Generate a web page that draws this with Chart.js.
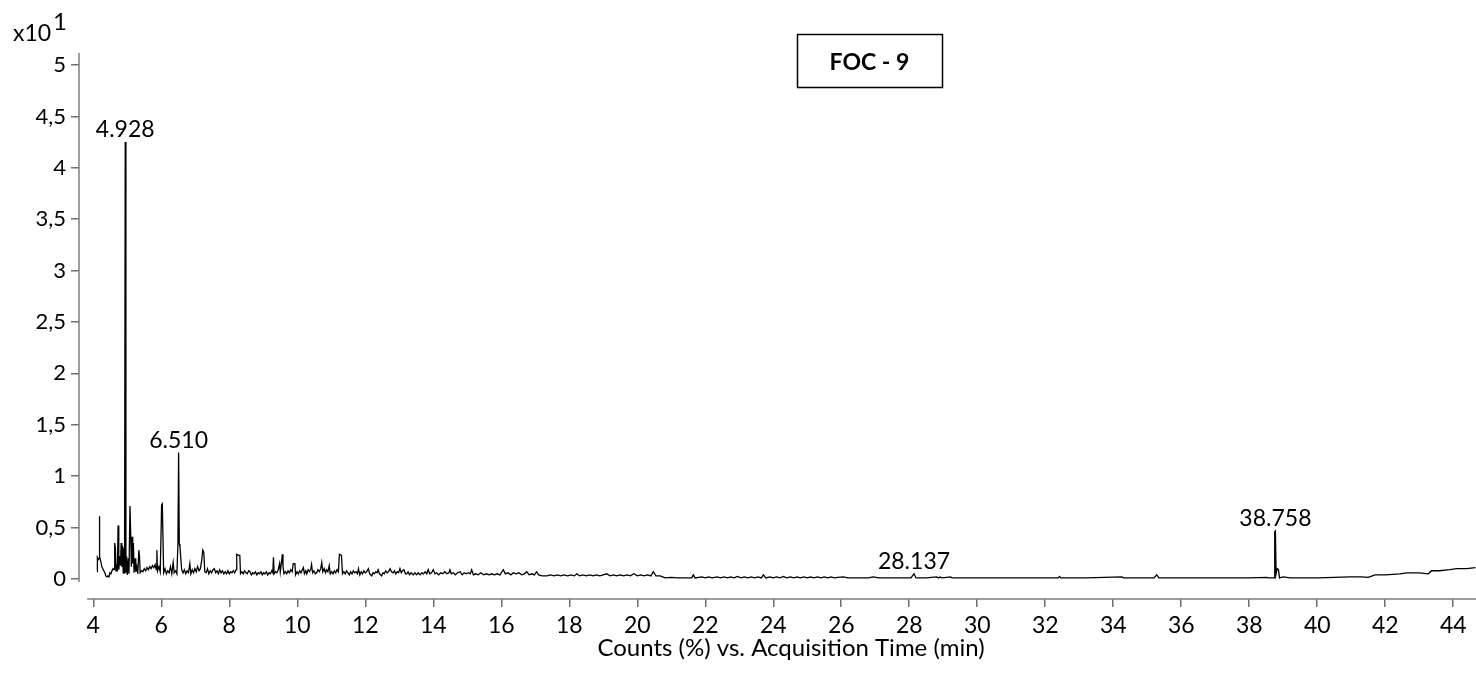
<!DOCTYPE html>
<html>
<head>
<meta charset="utf-8">
<script src="https://cdn.jsdelivr.net/npm/chart.js@4"></script>
<style>
  html, body { margin: 0; padding: 0; background: #fff; }
  canvas { display: block; }
</style>
</head>
<body>
<canvas id="tic" width="1476" height="688"></canvas>
<script>
// Chromatogram FOC - 9 (values in x10^1 counts %)
const retentionTimes = [
  4.12, 4.121, 4.15, 4.17, 4.18, 4.19, 4.22, 4.25, 4.28, 4.31,
  4.34, 4.37, 4.40, 4.43, 4.46, 4.49, 4.52, 4.55, 4.58, 4.61,
  4.63, 4.65, 4.67, 4.69, 4.71, 4.73, 4.75, 4.78, 4.80, 4.82,
  4.84, 4.86, 4.88, 4.90, 4.92, 4.94, 4.96, 4.98, 5.00, 5.03,
  5.05, 5.08, 5.10, 5.12, 5.14, 5.16, 5.18, 5.20, 5.23, 5.25,
  5.28, 5.31, 5.34, 5.36, 5.38, 5.42, 5.46, 5.50, 5.54, 5.58,
  5.62, 5.66, 5.70, 5.74, 5.78, 5.82, 5.85, 5.87, 5.89, 5.93,
  5.97, 6.01, 6.03, 6.05, 6.07, 6.11, 6.15, 6.19, 6.23, 6.27,
  6.31, 6.35, 6.38, 6.42, 6.46, 6.49, 6.51, 6.53, 6.55, 6.57,
  6.60, 6.64, 6.68, 6.72, 6.76, 6.80, 6.84, 6.87, 6.91, 6.95,
  6.99, 7.03, 7.07, 7.11, 7.15, 7.19, 7.22, 7.25, 7.28, 7.32,
  7.36, 7.40, 7.44, 7.48, 7.52, 7.56, 7.60, 7.64, 7.68, 7.72,
  7.76, 7.80, 7.84, 7.88, 7.92, 7.96, 8.00, 8.04, 8.08, 8.12,
  8.16, 8.20, 8.22, 8.28, 8.31, 8.33, 8.37, 8.41, 8.45, 8.49,
  8.53, 8.57, 8.61, 8.65, 8.69, 8.73, 8.77, 8.81, 8.85, 8.89,
  8.93, 8.97, 9.01, 9.05, 9.09, 9.13, 9.17, 9.21, 9.25, 9.28,
  9.30, 9.32, 9.36, 9.40, 9.44, 9.48, 9.50, 9.54, 9.56, 9.58,
  9.61, 9.65, 9.69, 9.73, 9.77, 9.81, 9.85, 9.88, 9.93, 9.95,
  9.99, 10.03, 10.07, 10.11, 10.15, 10.18, 10.21, 10.25, 10.28, 10.32,
  10.36, 10.40, 10.42, 10.45, 10.49, 10.53, 10.57, 10.61, 10.65, 10.69,
  10.72, 10.75, 10.79, 10.83, 10.86, 10.90, 10.94, 10.97, 11.01, 11.05,
  11.09, 11.13, 11.17, 11.21, 11.24, 11.30, 11.33, 11.37, 11.41, 11.45,
  11.49, 11.53, 11.57, 11.61, 11.65, 11.69, 11.73, 11.77, 11.80, 11.84,
  11.88, 11.92, 11.96, 12.00, 12.04, 12.09, 12.13, 12.19, 12.23, 12.27,
  12.31, 12.35, 12.38, 12.42, 12.48, 12.52, 12.56, 12.60, 12.64, 12.68,
  12.73, 12.77, 12.82, 12.86, 12.90, 12.94, 12.98, 13.02, 13.06, 13.10,
  13.14, 13.18, 13.22, 13.26, 13.30, 13.35, 13.41, 13.46, 13.51, 13.56,
  13.61, 13.66, 13.71, 13.76, 13.81, 13.85, 13.90, 13.95, 14.00, 14.05,
  14.10, 14.16, 14.22, 14.28, 14.34, 14.40, 14.46, 14.49, 14.53, 14.59,
  14.65, 14.71, 14.79, 14.85, 14.91, 14.97, 15.03, 15.09, 15.13, 15.18,
  15.25, 15.32, 15.40, 15.48, 15.56, 15.64, 15.72, 15.80, 15.88, 15.96,
  16.06, 16.12, 16.20, 16.28, 16.36, 16.44, 16.52, 16.60, 16.68, 16.75,
  16.82, 16.90, 16.97, 17.04, 17.10, 17.20, 17.34, 17.45, 17.55, 17.65,
  17.75, 17.85, 17.95, 18.05, 18.15, 18.22, 18.30, 18.40, 18.50, 18.60,
  18.70, 18.80, 18.90, 19.00, 19.10, 19.20, 19.30, 19.40, 19.50, 19.60,
  19.70, 19.80, 19.90, 20.00, 20.10, 20.20, 20.30, 20.40, 20.47, 20.55,
  20.67, 20.75, 20.82, 21.00, 21.20, 21.40, 21.60, 21.65, 21.70, 21.90,
  22.00, 22.10, 22.20, 22.35, 22.45, 22.55, 22.65, 22.75, 22.85, 22.95,
  23.05, 23.15, 23.25, 23.35, 23.45, 23.55, 23.65, 23.71, 23.78, 23.90,
  24.00, 24.10, 24.20, 24.30, 24.40, 24.50, 24.60, 24.70, 24.80, 24.90,
  25.00, 25.10, 25.20, 25.30, 25.40, 25.50, 25.60, 25.70, 25.80, 25.90,
  26.06, 26.20, 26.50, 26.80, 26.94, 27.10, 27.50, 27.90, 28.05, 28.14,
  28.20, 28.50, 28.81, 28.86, 28.91, 28.96, 29.22, 29.26, 30.00, 31.00,
  32.00, 32.38, 32.42, 32.46, 33.20, 34.26, 34.30, 35.20, 35.28, 35.34,
  36.00, 37.00, 38.00, 38.51, 38.55, 38.74, 38.75, 38.77, 38.79, 38.82,
  38.86, 38.89, 39.00, 39.20, 39.49, 39.80, 40.00, 40.50, 40.96, 41.30,
  41.50, 41.70, 42.00, 42.43, 42.63, 43.00, 43.27, 43.36, 43.60, 43.90,
  44.10, 44.40, 44.65
];

const abundances = [
  0.07, 0.21, 0.19, 0.20, 0.61, 0.22, 0.17, 0.12, 0.10, 0.08,
  0.06, 0.03, 0.02, 0.03, 0.02, 0.06, 0.05, 0.08, 0.10, 0.09,
  0.35, 0.30, 0.08, 0.12, 0.10, 0.52, 0.09, 0.22, 0.13, 0.35,
  0.12, 0.32, 0.06, 0.30, 0.05, 4.25, 0.06, 0.22, 0.04, 0.20,
  0.05, 0.71, 0.45, 0.12, 0.41, 0.15, 0.35, 0.06, 0.20, 0.07,
  0.12, 0.05, 0.28, 0.22, 0.06, 0.08, 0.07, 0.10, 0.08, 0.11,
  0.09, 0.12, 0.10, 0.13, 0.11, 0.14, 0.09, 0.28, 0.08, 0.12,
  0.07, 0.72, 0.73, 0.73, 0.06, 0.10, 0.05, 0.08, 0.06, 0.12,
  0.05, 0.16, 0.06, 0.08, 0.05, 0.35, 1.23, 0.34, 0.31, 0.22,
  0.09, 0.06, 0.09, 0.05, 0.08, 0.06, 0.15, 0.05, 0.09, 0.06,
  0.10, 0.07, 0.12, 0.08, 0.10, 0.18, 0.28, 0.26, 0.07, 0.06,
  0.10, 0.05, 0.08, 0.06, 0.09, 0.10, 0.06, 0.08, 0.05, 0.09,
  0.06, 0.08, 0.05, 0.07, 0.05, 0.08, 0.05, 0.07, 0.06, 0.08,
  0.06, 0.09, 0.24, 0.23, 0.23, 0.05, 0.07, 0.05, 0.08, 0.06,
  0.05, 0.08, 0.07, 0.04, 0.06, 0.05, 0.07, 0.04, 0.06, 0.05,
  0.07, 0.04, 0.06, 0.05, 0.07, 0.04, 0.06, 0.05, 0.08, 0.06,
  0.21, 0.05, 0.07, 0.06, 0.09, 0.15, 0.07, 0.18, 0.24, 0.12,
  0.05, 0.07, 0.05, 0.08, 0.06, 0.09, 0.07, 0.15, 0.15, 0.04,
  0.07, 0.05, 0.08, 0.06, 0.09, 0.11, 0.05, 0.08, 0.05, 0.09,
  0.07, 0.10, 0.14, 0.06, 0.08, 0.05, 0.06, 0.09, 0.07, 0.10,
  0.16, 0.07, 0.10, 0.06, 0.09, 0.07, 0.13, 0.05, 0.07, 0.05,
  0.08, 0.06, 0.09, 0.07, 0.24, 0.23, 0.05, 0.07, 0.05, 0.08,
  0.06, 0.04, 0.07, 0.05, 0.08, 0.06, 0.07, 0.05, 0.10, 0.04,
  0.07, 0.05, 0.08, 0.06, 0.07, 0.10, 0.05, 0.03, 0.06, 0.05,
  0.07, 0.06, 0.09, 0.05, 0.03, 0.06, 0.05, 0.08, 0.06, 0.07,
  0.10, 0.07, 0.06, 0.08, 0.05, 0.07, 0.06, 0.10, 0.06, 0.08,
  0.09, 0.05, 0.05, 0.07, 0.04, 0.06, 0.04, 0.06, 0.04, 0.06,
  0.04, 0.06, 0.05, 0.07, 0.05, 0.09, 0.05, 0.06, 0.09, 0.05,
  0.06, 0.04, 0.06, 0.05, 0.07, 0.05, 0.06, 0.09, 0.05, 0.06,
  0.04, 0.06, 0.07, 0.04, 0.06, 0.05, 0.06, 0.05, 0.09, 0.04,
  0.05, 0.04, 0.06, 0.04, 0.05, 0.04, 0.05, 0.04, 0.05, 0.04,
  0.09, 0.05, 0.06, 0.04, 0.06, 0.05, 0.06, 0.04, 0.05, 0.07,
  0.04, 0.05, 0.04, 0.07, 0.04, 0.03, 0.03, 0.04, 0.03, 0.04,
  0.03, 0.04, 0.03, 0.04, 0.03, 0.05, 0.03, 0.04, 0.03, 0.04,
  0.03, 0.04, 0.03, 0.04, 0.05, 0.03, 0.04, 0.03, 0.04, 0.03,
  0.04, 0.03, 0.05, 0.03, 0.04, 0.03, 0.04, 0.03, 0.07, 0.03,
  0.03, 0.02, 0.01, 0.015, 0.01, 0.01, 0.01, 0.04, 0.01, 0.02,
  0.01, 0.02, 0.01, 0.02, 0.01, 0.02, 0.01, 0.02, 0.01, 0.025,
  0.01, 0.02, 0.01, 0.02, 0.01, 0.02, 0.01, 0.04, 0.01, 0.02,
  0.01, 0.02, 0.01, 0.025, 0.01, 0.02, 0.01, 0.02, 0.01, 0.02,
  0.01, 0.02, 0.01, 0.02, 0.01, 0.02, 0.01, 0.02, 0.01, 0.015,
  0.02, 0.01, 0.01, 0.01, 0.02, 0.01, 0.01, 0.01, 0.01, 0.05,
  0.01, 0.01, 0.02, 0.01, 0.02, 0.01, 0.02, 0.01, 0.01, 0.01,
  0.01, 0.01, 0.025, 0.01, 0.01, 0.02, 0.01, 0.01, 0.04, 0.01,
  0.01, 0.01, 0.01, 0.015, 0.01, 0.01, 0.46, 0.467, 0.05, 0.10,
  0.09, 0.01, 0.02, 0.01, 0.01, 0.01, 0.01, 0.015, 0.02, 0.02,
  0.015, 0.04, 0.04, 0.05, 0.06, 0.06, 0.05, 0.08, 0.08, 0.09,
  0.10, 0.10, 0.11
];

const peakLabels = ['4.928', '6.510', '28.137', '38.758'];
const xTickValues = [4, 6, 8, 10, 12, 14, 16, 18, 20, 22, 24, 26, 28, 30, 32, 34, 36, 38, 40, 42, 44];
const yTickValues = [0, 0.5, 1, 1.5, 2, 2.5, 3, 3.5, 4, 4.5, 5];

const FONT = "Lato, 'Open Sans', sans-serif";
const AXIS_COLOR = '#808080';

Chart.defaults.font.family = FONT;
Chart.defaults.color = '#000';

const points = retentionTimes.map((t, i) => ({ x: t, y: abundances[i] }));

// peak annotations, x10^1 exponent, sample box and detached axis lines
const overlay = {
  id: 'overlay',
  afterDraw(chart) {
    const { ctx, chartArea, scales: { x, y } } = chart;
    ctx.save();

    ctx.strokeStyle = AXIS_COLOR;
    ctx.lineWidth = 1.5;
    ctx.beginPath();
    ctx.moveTo(chartArea.left, chartArea.top);
    ctx.lineTo(chartArea.left, y.getPixelForValue(-0.03));
    ctx.moveTo(x.getPixelForValue(3.82), chartArea.bottom);
    ctx.lineTo(chartArea.right, chartArea.bottom);
    ctx.stroke();

    ctx.fillStyle = '#000';
    ctx.textAlign = 'center';
    ctx.textBaseline = 'alphabetic';
    ctx.font = `23px ${FONT}`;
    peakLabels.forEach(label => {
      const t = parseFloat(label);
      let best = -1;
      points.forEach((p, i) => {
        if (Math.abs(p.x - t) < 0.06 && (best < 0 || p.y > points[best].y)) best = i;
      });
      const px = x.getPixelForValue(points[best].x);
      const py = y.getPixelForValue(points[best].y);
      ctx.fillText(label, px, py - 5);
    });

    ctx.textAlign = 'left';
    ctx.font = `23px ${FONT}`;
    ctx.fillText('x10', 13, 41);
    ctx.font = `24px ${FONT}`;
    ctx.fillText('1', 53, 30);

    ctx.strokeStyle = '#000';
    ctx.lineWidth = 1.5;
    ctx.strokeRect(797.5, 34.5, 145, 53);
    ctx.textAlign = 'center';
    ctx.font = `bold 23px ${FONT}`;
    ctx.fillText('FOC - 9', 869.5, 70);

    ctx.font = `24px ${FONT}`;
    ctx.fillText('Counts (%) vs. Acquisition Time (min)', 791, 656);
    ctx.restore();
  }
};

new Chart(document.getElementById('tic'), {
  type: 'line',
  data: {
    datasets: [{
      data: points,
      borderColor: '#000',
      borderWidth: 1.3,
      pointRadius: 0,
      tension: 0,
      fill: false
    }]
  },
  options: {
    responsive: false,
    animation: false,
    layout: { padding: { top: 53, right: 0, bottom: 0, left: 0 } },
    plugins: { legend: { display: false }, tooltip: { enabled: false } },
    scales: {
      x: {
        type: 'linear',
        min: 3.58,
        max: 44.67,
        afterBuildTicks: s => { s.ticks = xTickValues.map(v => ({ value: v })); },
        afterFit: s => { s.height = 89; },
        grid: { display: true, drawOnChartArea: false, drawTicks: true, tickLength: 8, color: '#6e6e6e', lineWidth: 1.5 },
        border: { display: false },
        ticks: { font: { size: 23 }, color: '#000', padding: 5, maxRotation: 0, autoSkip: false }
      },
      y: {
        type: 'linear',
        min: -0.195,
        max: 5.117,
        afterBuildTicks: s => { s.ticks = yTickValues.map(v => ({ value: v })); },
        afterFit: s => { s.width = 79; },
        grid: { display: true, drawOnChartArea: false, drawTicks: true, tickLength: 8, color: '#6e6e6e', lineWidth: 1.5 },
        border: { display: false },
        ticks: {
          font: { size: 22 },
          color: '#000',
          padding: 5,
          callback: v => String(v).replace('.', ',')
        }
      }
    }
  },
  plugins: [overlay]
});
</script>
</body>
</html>
